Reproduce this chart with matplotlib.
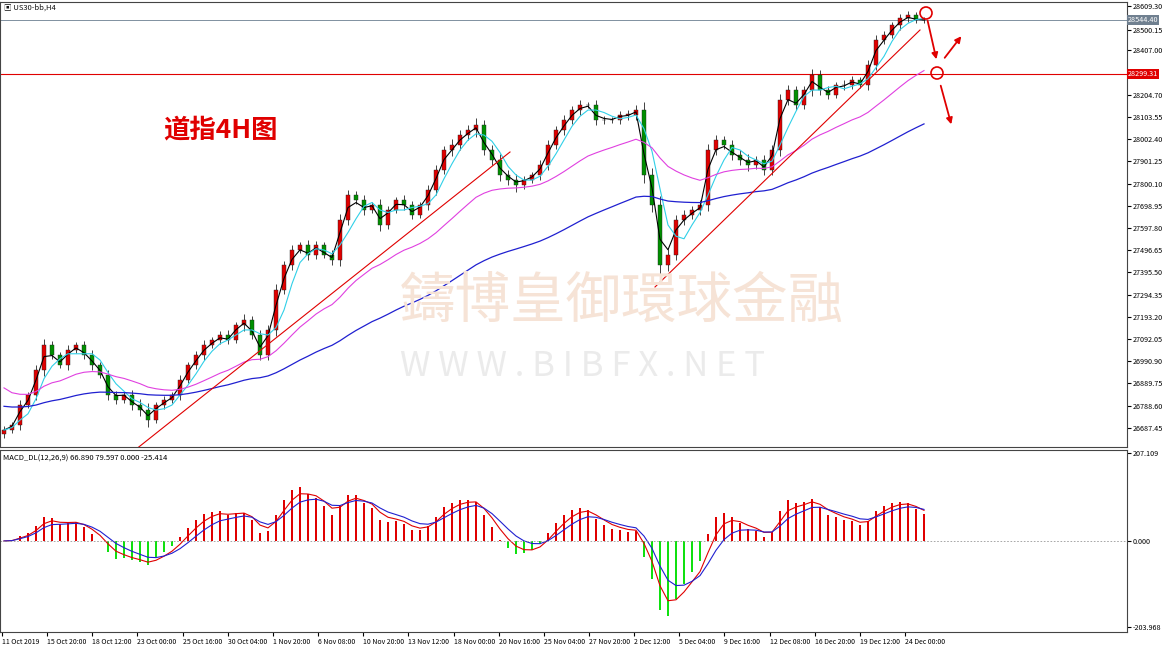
import numpy as np
import pandas as pd
import matplotlib
matplotlib.use("Agg")
import matplotlib.pyplot as plt
from matplotlib.patches import Rectangle, Ellipse

plt.rcParams['font.family'] = ['Noto Sans CJK SC', 'DejaVu Sans']

closes = [26677, 26700, 26791, 26837, 26951, 27065, 27019, 26973, 27042, 27065,
          27019, 26973, 26928, 26837, 26814, 26837, 26791, 26769, 26723, 26791,
          26814, 26837, 26905, 26973, 27019, 27065, 27088, 27110, 27088, 27156,
          27179, 27110, 27019, 27133, 27315, 27429, 27498, 27520, 27475, 27520,
          27475, 27452, 27634, 27748, 27725, 27680, 27703, 27611, 27680, 27725,
          27703, 27657, 27703, 27771, 27862, 27953, 27976, 28021, 28044, 28067,
          27953, 27908, 27839, 27816, 27794, 27816, 27839, 27885, 27976, 28044,
          28090, 28135, 28158, 28158, 28090, 28090, 28090, 28113, 28113, 28135,
          27839, 27703, 27429, 27475, 27634, 27657, 27680, 27703, 27953, 27999,
          27976, 27930, 27908, 27885, 27908, 27862, 27953, 28181, 28226, 28158,
          28226, 28295, 28226, 28204, 28249, 28249, 28272, 28249, 28340, 28454,
          28477, 28522, 28554, 28568, 28545, 28544]
wicks = [30, 25, 40, 20, 35, 45, 30, 25, 40, 20, 30, 35, 25, 40, 30, 20, 35, 45, 50, 25,
         30, 20, 35, 25, 30, 40, 25, 30, 35, 20, 45, 30, 40, 35, 45, 30, 40, 25, 35, 30,
         25, 40, 45, 35, 30, 40, 25, 45, 30, 25, 35, 30, 25, 40, 35, 30, 45, 40, 35, 50,
         40, 35, 45, 40, 50, 30, 25, 35, 40, 30, 35, 30, 40, 25, 35, 30, 25, 30, 35, 40,
         60, 55, 70, 45, 40, 35, 30, 40, 45, 35, 30, 40, 35, 45, 30, 40, 35, 45, 40, 35,
         30, 45, 35, 30, 25, 35, 30, 25, 35, 40, 30, 25, 35, 30, 25, 20]
date_labels = ["11 Oct 2019", "15 Oct 20:00", "18 Oct 12:00", "23 Oct 00:00", "25 Oct 16:00",
               "30 Oct 04:00", "1 Nov 20:00", "6 Nov 08:00", "10 Nov 20:00", "13 Nov 12:00",
               "18 Nov 00:00", "20 Nov 16:00", "25 Nov 04:00", "27 Nov 20:00", "2 Dec 12:00",
               "5 Dec 04:00", "9 Dec 16:00", "12 Dec 08:00", "16 Dec 20:00", "19 Dec 12:00",
               "24 Dec 00:00"]
price_ticks = [28609.30, 28500.15, 28407.00, 28204.70, 28103.55, 28002.40, 27901.25, 27800.10,
               27698.95, 27597.80, 27496.65, 27395.50, 27294.35, 27193.20, 27092.05, 26990.90,
               26889.75, 26788.60, 26687.45]
last_price = 28544.40
level_price = 28299.31

c = np.array(closes, float)
o = np.r_[c[0] - 20, c[:-1]]
w = np.array(wicks, float)
h = np.maximum(o, c) + w * 0.6
l = np.minimum(o, c) - w * 0.6
n = len(c)
x = np.arange(n)
s = pd.Series(c)
ma_black = s.ewm(span=2).mean()
ma_cyan = s.rolling(4, min_periods=1).mean()
ma_mag = pd.Series(np.r_[[26900] * 10, c]).ewm(span=22).mean().values[10:]
ma_blue = pd.Series(np.r_[[26790] * 60, c]).ewm(span=55).mean().values[60:]
macd = s.ewm(span=4).mean() - s.ewm(span=9).mean()
sig1 = macd.ewm(span=3).mean()
sig2 = macd.ewm(span=6).mean()

W, H = 1170, 650
fig = plt.figure(figsize=(11.7, 6.5), dpi=100)
fig.patch.set_facecolor('white')
PX = 8.0
def xd(px):
    return px / PX - 0.5
axm = fig.add_axes([0, 1 - 447 / H, 1127 / W, 445 / H])
axd = fig.add_axes([0, 1 - 632 / H, 1127 / W, 182 / H])
def py(y):
    return 28609.3 - (y - 6) * 101.15 / 22.2
for ax in (axm, axd):
    ax.set_xlim(-0.5, 1127 / PX - 0.5)
    ax.yaxis.tick_right()
    ax.tick_params(axis='y', labelsize=5.2, length=3, pad=1, direction='out')
    for sp in ax.spines.values():
        sp.set_color('#444')
        sp.set_linewidth(0.8)
axm.set_ylim(py(447), py(2))
axm.set_xticks([])
axm.set_yticks(price_ticks)
axm.set_yticklabels([f"{v:.2f}" for v in price_ticks])

fig.text(400 / W, 1 - 302 / H, "鑄博皇御環球金融", color='#f6e3d6', fontsize=40, va='center', zorder=0)
fig.text(400 / W, 1 - 367 / H, "W W W . B I B F X . N E T", color='#ebebeb', fontsize=25, va='center', zorder=0)
axm.patch.set_alpha(0)

# candles
for i in x:
    col = '#e00000' if c[i] >= o[i] else '#009000'
    axm.vlines(i, l[i], h[i], color='#222', lw=0.6, zorder=3)
    axm.add_patch(Rectangle((i - 0.2, min(o[i], c[i])), 0.4, max(abs(c[i] - o[i]), 2),
                            facecolor=col, edgecolor='#222', lw=0.3, zorder=4))
axm.plot(x, ma_black, color='black', lw=0.8, zorder=5)
axm.plot(x, ma_cyan, color='#30d0e8', lw=0.8, zorder=5)
axm.plot(x, ma_mag, color='#e040e0', lw=0.8, zorder=5)
axm.plot(x, ma_blue, color='#2020d0', lw=0.9, zorder=5)
axm.axhline(level_price, color='#e00000', lw=0.8)
axm.axhline(last_price, color='#8090a0', lw=0.7)
axm.text(1.001, level_price, f"{level_price:.2f}", transform=axm.get_yaxis_transform(),
         fontsize=5.2, color='white', va='center', bbox=dict(fc='#e00000', ec='none', pad=0.6))
axm.text(1.001, last_price, f"{last_price:.2f}", transform=axm.get_yaxis_transform(),
         fontsize=5.2, color='white', va='center', bbox=dict(fc='#708090', ec='none', pad=0.6))
# trend lines
axm.plot([xd(135), xd(510)], [py(450), py(152)], color='#e00000', lw=0.8, zorder=6)
axm.plot([xd(655), xd(920)], [py(287), py(30)], color='#e00000', lw=0.8, zorder=6)
# arrows and circles
arr = dict(arrowstyle='-|>', color='#e00000', lw=1.3, mutation_scale=9)
axm.annotate('', xy=(xd(937), py(62)), xytext=(xd(927), py(18)), arrowprops=arr, zorder=7)
axm.annotate('', xy=(xd(963), py(34)), xytext=(xd(943), py(60)), arrowprops=arr, zorder=7)
axm.annotate('', xy=(xd(952), py(127)), xytext=(xd(940), py(83)), arrowprops=arr, zorder=7)
for cx, cy in [(926, 13), (937, 73)]:
    fig.add_artist(Ellipse((cx / W, 1 - cy / H), 12 / W, 12 / H, fill=False,
                           ec='#e00000', lw=1.2, transform=fig.transFigure))
# texts
fig.text(163 / W, 1 - 130 / H, "道指4H图", color='#e00000', fontsize=19, fontweight='bold', va='center')
fig.text(4 / W, 1 - 8 / H, "▣ US30-bb,H4", fontsize=5.5, va='center', color='#111')

# MACD
axd.set_ylim(-215, 215)
axd.bar(x, macd, width=0.35, color=np.where(macd >= 0, '#e00000', '#10e010'))
axd.plot(x, sig1, color='#e00000', lw=0.8)
axd.plot(x, sig2, color='#2020d0', lw=0.8)
axd.axhline(0, color='#999', lw=0.6, ls=(0, (2, 2)))
axd.set_yticks([207.109, 0, -203.968])
axd.set_yticklabels(["207.109", "0.000", "-203.968"])
axd.text(0.003, 0.955, "MACD_DL(12,26,9) 66.890 79.597 0.000 -25.414", transform=axd.transAxes,
         fontsize=5.5, va='center')
tick_px = [2 + 45.15 * k for k in range(len(date_labels))]
axd.set_xticks([xd(p) for p in tick_px])
axd.set_xticklabels(date_labels, fontsize=5, ha='left')
axd.tick_params(axis='x', length=3, pad=1)
fig.savefig("out.png", dpi=100)
